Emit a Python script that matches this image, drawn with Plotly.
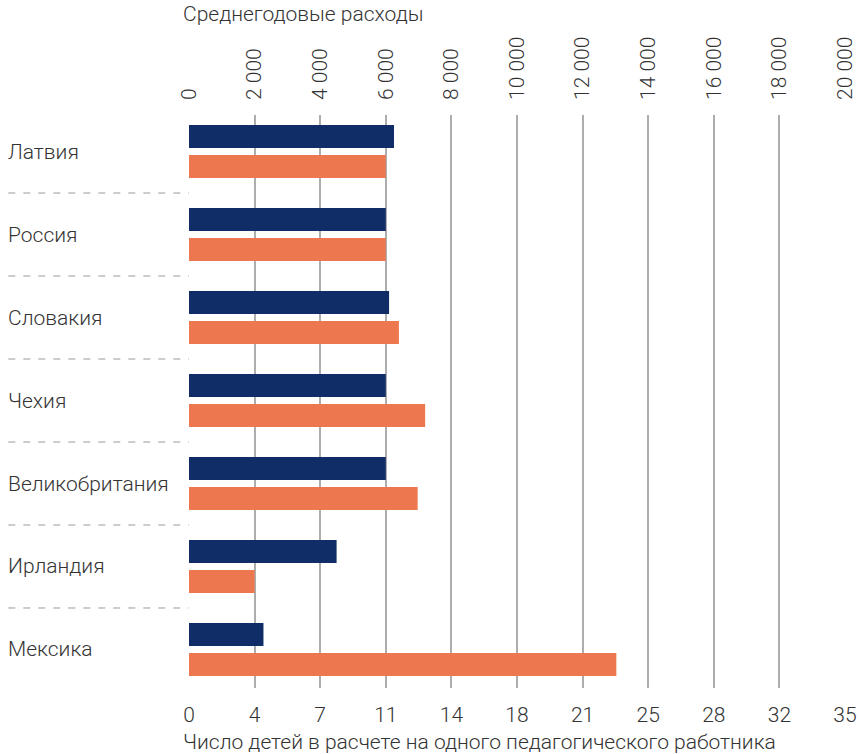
import plotly.graph_objects as go

countries = ["Латвия", "Россия", "Словакия", "Чехия", "Великобритания", "Ирландия", "Мексика"]
spending = [6250, 6000, 6100, 6000, 6000, 4500, 2270]          # top axis, navy
children_per_teacher = [10.5, 10.5, 11.2, 12.6, 12.2, 3.5, 22.8]  # bottom axis, orange

top_ticks = [0, 2000, 4000, 6000, 8000, 10000, 12000, 14000, 16000, 18000, 20000]
top_labels = ["0", "2 000", "4 000", "6 000", "8 000", "10 000", "12 000",
              "14 000", "16 000", "18 000", "20 000"]
bottom_ticks = [0, 3.5, 7, 10.5, 14, 17.5, 21, 24.5, 28, 31.5, 35]
bottom_labels = ["0", "4", "7", "11", "14", "18", "21", "25", "28", "32", "35"]

NAVY = "#102d67"
ORANGE = "#ed7850"
GRID = "#adadad"
TEXT = "#333333"
FONT = dict(family="Roboto", size=21, color=TEXT, weight=300)

W, H = 859, 754
L, R, T, B = 188.7, 14.3, 115, 66
plot_w = W - L - R
plot_h = H - T - B


def px_x(p):
    return (p - L) / plot_w


def px_y(p):
    return (H - B - p) / plot_h


fig = go.Figure()

fig.add_trace(go.Bar(
    y=countries, x=spending, orientation="h", xaxis="x2",
    marker=dict(color=NAVY, line_width=0),
    offset=-0.319, width=0.277, showlegend=False, name="Среднегодовые расходы"
))
fig.add_trace(go.Bar(
    y=countries, x=children_per_teacher, orientation="h", xaxis="x",
    marker=dict(color=ORANGE, line_width=0),
    offset=0.042, width=0.277, showlegend=False, name="Число детей"
))

# dashed separators between countries
for i in range(len(countries) - 1):
    fig.add_shape(type="line", xref="paper", yref="y",
                  x0=px_x(8), x1=0, y0=i + 0.5, y1=i + 0.5,
                  line=dict(color="#9a9a9a", width=1, dash="7px,8px"))

# country labels, left aligned
for c in countries:
    fig.add_annotation(text=c, xref="paper", yref="y", x=px_x(6), y=c,
                       xanchor="left", yanchor="middle", showarrow=False, font=FONT)

fig.add_annotation(text="Среднегодовые расходы", xref="paper", yref="paper",
                   x=px_x(181), y=px_y(14), xanchor="left", yanchor="middle",
                   showarrow=False, font=FONT)
fig.add_annotation(text="Число детей в расчете на одного педагогического работника",
                   xref="paper", yref="paper", x=px_x(181), y=px_y(742),
                   xanchor="left", yanchor="middle", showarrow=False, font=FONT)

fig.update_layout(
    width=W, height=H,
    margin=dict(l=L, r=R, t=T, b=B, autoexpand=False),
    plot_bgcolor="white", paper_bgcolor="white",
    barmode="overlay",
    font=FONT,
    xaxis=dict(range=[0, 35], tickvals=bottom_ticks, ticktext=bottom_labels,
               showgrid=True, gridcolor=GRID, gridwidth=1.5, zeroline=False,
               showline=False, ticks="", ticklabelstandoff=12, tickfont=FONT,
               automargin=False),
    xaxis2=dict(range=[0, 20000], tickvals=top_ticks, ticktext=top_labels,
                overlaying="x", side="top", anchor="y", tickangle=-90,
                showgrid=False, zeroline=False, showline=False, ticks="",
                ticklabelstandoff=14, tickfont=FONT, automargin=False),
    yaxis=dict(type="category", categoryarray=countries, range=[6.464, -0.44],
               showticklabels=False, showgrid=False, zeroline=False, showline=False,
               automargin=False),
)

fig.write_html("out.html", config={"displayModeBar": False},
               post_script="document.body.style.margin = '0';")
